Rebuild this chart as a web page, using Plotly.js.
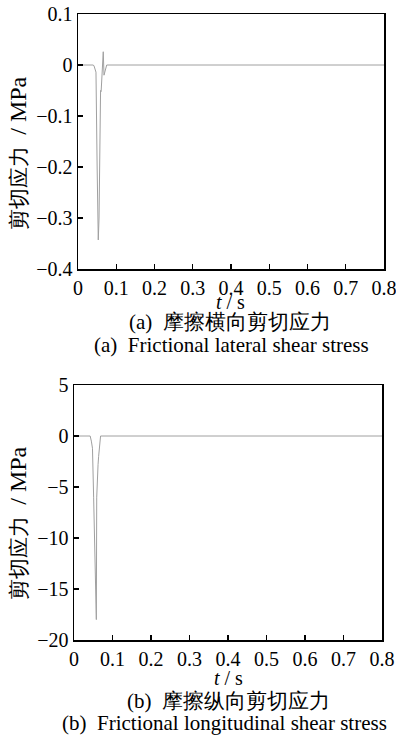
<!DOCTYPE html>
<html><head><meta charset="utf-8">
<script src="https://cdn.plot.ly/plotly-3.0.1.min.js"></script>
<style>html,body{margin:0;padding:0;background:#fff;}</style>
</head><body>
<div id="chart" style="width:396px;height:738px;"></div>
<script>
// (a) Frictional lateral shear stress, MPa
const tA = [0, 0.040, 0.042, 0.045, 0.047, 0.050, 0.053, 0.055, 0.0575, 0.059, 0.0605, 0.062, 0.064, 0.066, 0.068, 0.0705, 0.075, 0.8];
const sA = [0, 0, -0.002, -0.010, -0.014, -0.200, -0.343, -0.300, -0.120, -0.050, -0.052, -0.030, 0.010, 0.026, -0.020, -0.013, 0, 0];
// (b) Frictional longitudinal shear stress, MPa
const tB = [0, 0.042, 0.045, 0.048, 0.051, 0.054, 0.058, 0.059, 0.0605, 0.0625, 0.064, 0.069, 0.8];
const sB = [0, 0, -0.5, -1.2, -6.0, -12.0, -18.0, -6.0, -3.2, -2.8, -2.0, 0, 0];

const yTicksA = [0.1, 0, -0.1, -0.2, -0.3, -0.4];
const yTicksB = [5, 0, -5, -10, -15, -20];
const xTicks = [0, 0.1, 0.2, 0.3, 0.4, 0.5, 0.6, 0.7, 0.8];
const xTickText = ['0', '0.1', '0.2', '0.3', '0.4', '0.5', '0.6', '0.7', '0.8'];

const W = 396, H = 738;
const fx = p => p / W;
const fy = p => 1 - p / H;

const serif = 'Liberation Serif';
const axisCommon = {
  showline: true, mirror: true, linecolor: '#000', linewidth: 1.5,
  ticks: 'inside', ticklen: 5, tickwidth: 1.2, tickcolor: '#000',
  showgrid: false, zeroline: false, ticklabeloverflow: 'allow',
  tickfont: {family: serif, size: 20, color: '#000'}
};

const traces = [
  {x: tA, y: sA, xaxis: 'x', yaxis: 'y', mode: 'lines', line: {color: '#a0a0a0', width: 1}, hoverinfo: 'skip'},
  {x: tB, y: sB, xaxis: 'x2', yaxis: 'y2', mode: 'lines', line: {color: '#a0a0a0', width: 1}, hoverinfo: 'skip'}
];

const yTitle = '剪切应力 <span style="font-size:24px"> / MPa</span>';

const layout = {
  width: W, height: H, margin: {l: 0, r: 0, t: 0, b: 0},
  font: {family: serif, color: '#000'},
  paper_bgcolor: '#fff', plot_bgcolor: '#fff', showlegend: false,
  xaxis: Object.assign({}, axisCommon, {domain: [fx(78), fx(384)], range: [0, 0.8], tickvals: xTicks, ticktext: xTickText, anchor: 'y'}),
  yaxis: Object.assign({}, axisCommon, {domain: [fy(269), fy(14)], range: [-0.4, 0.1], tickvals: yTicksA, anchor: 'x'}),
  xaxis2: Object.assign({}, axisCommon, {domain: [fx(74), fx(382)], range: [0, 0.8], tickvals: xTicks, ticktext: xTickText, anchor: 'y2'}),
  yaxis2: Object.assign({}, axisCommon, {domain: [fy(640), fy(385)], range: [-20, 5], tickvals: yTicksB, anchor: 'x2'}),
  annotations: [
    {text: yTitle, x: fx(18), y: fy(153), textangle: -90},
    {text: '<i>t</i> / s', x: fx(230), y: fy(302), font: {family: serif, size: 20, color: '#000'}},
    {text: '(a)  摩擦横向剪切应力', x: fx(230), y: fy(322)},
    {text: '(a)  Frictional lateral shear stress', x: fx(231), y: fy(345)},
    {text: yTitle, x: fx(18), y: fy(523), textangle: -90},
    {text: '<i>t</i> / s', x: fx(228), y: fy(678), font: {family: serif, size: 20, color: '#000'}},
    {text: '(b)  摩擦纵向剪切应力', x: fx(228), y: fy(701)},
    {text: '(b)  Frictional longitudinal shear stress', x: fx(224), y: fy(723)}
  ].map(a => Object.assign({xref: 'paper', yref: 'paper', showarrow: false, xanchor: 'center', yanchor: 'middle',
    font: {family: serif, size: 21, color: '#000'}}, a))
};

Plotly.newPlot('chart', traces, layout, {staticPlot: true, displayModeBar: false});
</script>
</body></html>
